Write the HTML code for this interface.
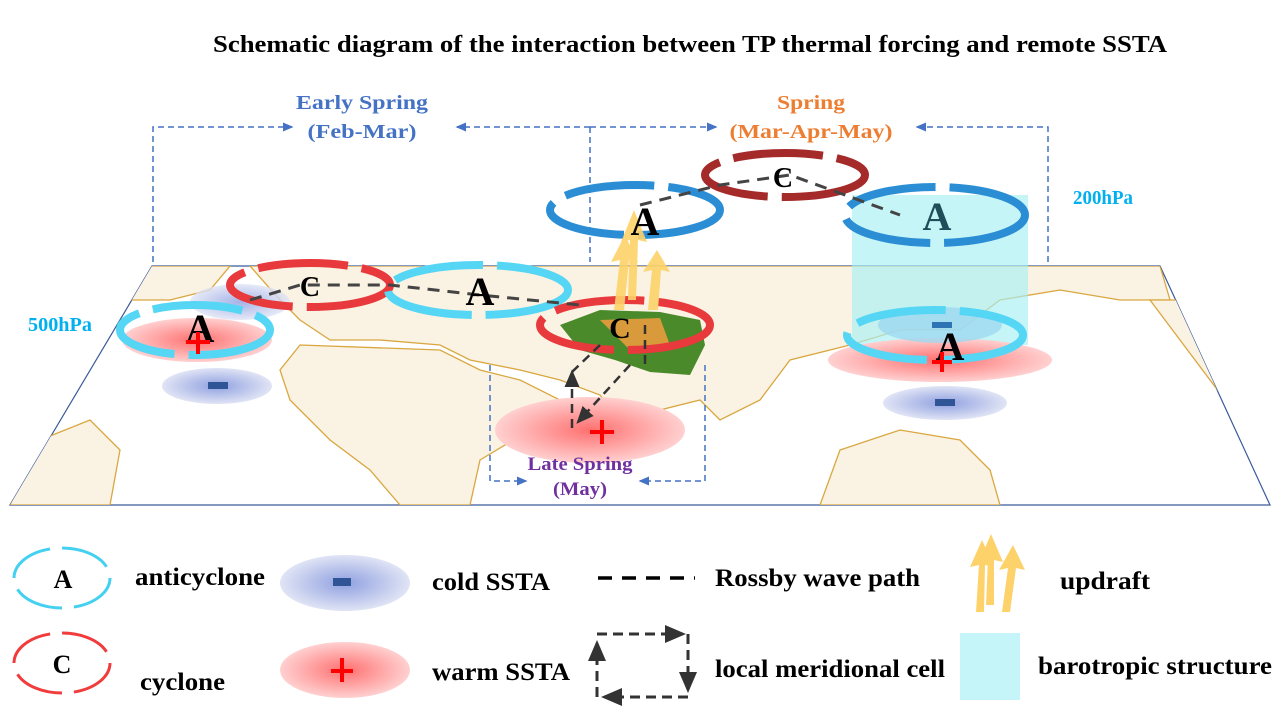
<!DOCTYPE html>
<html><head><meta charset="utf-8"><style>
html,body{margin:0;padding:0;background:#fff;}
svg{display:block;font-family:"Liberation Serif",serif;font-weight:bold;}
</style></head><body>
<svg width="1280" height="720" viewBox="0 0 1280 720" xmlns="http://www.w3.org/2000/svg">
<defs>
<radialGradient id="rg"><stop offset="0" stop-color="#ff7070"/><stop offset="1" stop-color="#ffd0d0"/></radialGradient>
<radialGradient id="bg"><stop offset="0" stop-color="#8fa0e0"/><stop offset="1" stop-color="#e0e4f5"/></radialGradient>
<marker id="ab" markerWidth="8" markerHeight="8" refX="6" refY="4" orient="auto"><path d="M0,1 L7,4 L0,7 z" fill="#4472c4"/></marker>
<marker id="ak" markerWidth="8" markerHeight="8" refX="6" refY="4" orient="auto"><path d="M0,1 L7,4 L0,7 z" fill="#333"/></marker>
<clipPath id="mc"><polygon points="152,266 1160,266 1270,505 10,505"/></clipPath>
</defs>
<text x="690" y="52" text-anchor="middle" font-size="24" textLength="954" lengthAdjust="spacingAndGlyphs" fill="#000">Schematic diagram of the interaction between TP thermal forcing and remote SSTA</text>

<polygon points="152,266 1160,266 1270,505 10,505" fill="#fff" stroke="#3a5a9a" stroke-width="1.2"/>
<g clip-path="url(#mc)" fill="#faf2e2" stroke="#d9a740" stroke-width="1.3">
<path d="M250,266 L1160,266 L1170,300 L1120,300 L1060,290 L1000,300 L960,330 L900,330 L850,345 L790,360 L760,400 L720,420 L700,400 L660,410 L640,440 L620,420 L600,395 L560,380 L520,370 L470,360 L440,345 L380,340 L330,340 L300,320 L280,300 Z"/>
<path d="M300,345 L440,350 L480,370 L520,380 L560,400 L530,430 L480,460 L470,505 L400,505 L370,470 L330,440 L290,400 L280,370 Z"/>
<path d="M10,505 L40,440 L90,420 L120,450 L110,505 Z"/>
<path d="M150,266 L230,266 L210,290 L170,300 L130,300 Z"/>
<path d="M840,450 L900,430 L960,440 L990,470 L1000,505 L820,505 Z"/>
<path d="M1150,300 L1200,300 L1260,420 L1240,420 L1180,340 Z"/>
</g>

<g fill="none" stroke="#4472c4" stroke-width="1.5" stroke-dasharray="6,4">
<polyline points="153,262 153,127 292,127" marker-end="url(#ab)"/>
<line x1="590" y1="127" x2="457" y2="127" marker-end="url(#ab)"/>
<line x1="590" y1="127" x2="716" y2="127" marker-end="url(#ab)"/>
<line x1="590" y1="127" x2="590" y2="262"/>
<polyline points="1048,262 1048,127 917,127" marker-end="url(#ab)"/>
<polyline points="490,365 490,481 526,481" marker-end="url(#ab)"/>
<polyline points="705,365 705,481 640,481" marker-end="url(#ab)"/>
</g>
<g font-size="20" text-anchor="middle">
<text x="362" y="109" fill="#4472c4" textLength="132" lengthAdjust="spacingAndGlyphs">Early Spring</text>
<text x="362" y="138" fill="#4472c4" textLength="109" lengthAdjust="spacingAndGlyphs">(Feb-Mar)</text>
<text x="811" y="109" fill="#ed7d31" textLength="68" lengthAdjust="spacingAndGlyphs">Spring</text>
<text x="811" y="138" fill="#ed7d31" textLength="163" lengthAdjust="spacingAndGlyphs">(Mar-Apr-May)</text>
<text x="1103" y="204" fill="#00b0f0" textLength="60" lengthAdjust="spacingAndGlyphs">200hPa</text>
<text x="60" y="331" fill="#00b0f0" textLength="64" lengthAdjust="spacingAndGlyphs">500hPa</text>
</g>

<rect x="852" y="195" width="176" height="150" fill="#a8f0f5" opacity="0.65"/>

<ellipse cx="197" cy="340" rx="75" ry="22" fill="url(#rg)"/>
<ellipse cx="240" cy="302" rx="50" ry="18" fill="url(#bg)" opacity="0.8"/>
<ellipse cx="217" cy="386" rx="55" ry="18" fill="url(#bg)"/>
<rect x="208" y="382" width="20" height="7" fill="#2f5597"/>
<ellipse cx="590" cy="430" rx="95" ry="33" fill="url(#rg)"/>
<path d="M590,432 h24 M602,420 v24" stroke="#f00" stroke-width="4"/>
<ellipse cx="940" cy="360" rx="112" ry="22" fill="url(#rg)"/>
<ellipse cx="940" cy="325" rx="62" ry="18" fill="#9dd8f0" opacity="0.8"/>
<rect x="932" y="322" width="20" height="6" fill="#2f75b5"/>
<ellipse cx="945" cy="403" rx="62" ry="17" fill="url(#bg)"/>
<rect x="935" y="399" width="20" height="7" fill="#2f5597"/>
<g font-size="19" text-anchor="middle" fill="#7030a0">
<text x="580" y="470" textLength="105" lengthAdjust="spacingAndGlyphs">Late Spring</text>
<text x="580" y="495" textLength="54" lengthAdjust="spacingAndGlyphs">(May)</text>
</g>

<path d="M560,325 L600,310 L660,312 L700,320 L705,345 L690,375 L650,372 L615,360 L580,350 Z" fill="#4a8a2a"/>
<path d="M600,320 L660,318 L670,345 L630,350 Z" fill="#d89a3a"/>

<g fill="none" stroke-width="8" stroke-dasharray="90,14">
<ellipse cx="195" cy="330" rx="75" ry="25" stroke="#55d6f5"/>
<ellipse cx="310" cy="285" rx="80" ry="22" stroke="#e8393c"/>
<ellipse cx="478" cy="290" rx="90" ry="25" stroke="#55d6f5"/>
<ellipse cx="625" cy="325" rx="85" ry="25" stroke="#e8393c"/>
<ellipse cx="635" cy="210" rx="85" ry="25" stroke="#2b8ed5"/>
<ellipse cx="785" cy="175" rx="80" ry="22" stroke="#a52a2a"/>
<ellipse cx="935" cy="215" rx="90" ry="28" stroke="#2b8ed5"/>
<ellipse cx="935" cy="335" rx="88" ry="25" stroke="#55d6f5"/>
</g>

<g fill="#fdd26a" opacity="0.9">
<path d="M614,310 L620,260 L611,262 L625,235 L638,262 L629,260 L624,310 Z"/>
<path d="M628,300 L630,240 L621,242 L634,210 L647,242 L638,240 L636,300 Z"/>
<path d="M648,310 L652,270 L643,272 L657,250 L670,272 L661,270 L658,310 Z"/>
</g>

<g fill="none" stroke="#444" stroke-width="3" stroke-dasharray="12,8">
<polyline points="250,300 300,285 390,285 480,295 580,305"/>
<polyline points="640,205 720,185 790,175 900,215"/>
</g>
<g fill="none" stroke="#333" stroke-width="2.5" stroke-dasharray="9,6">
<polyline points="645,325 645,365"/>
<line x1="630" y1="365" x2="578" y2="422" marker-end="url(#ak)"/>
<line x1="572" y1="428" x2="572" y2="372" marker-end="url(#ak)"/>
<line x1="572" y1="372" x2="600" y2="345"/>
</g>

<g font-size="40" fill="#000" text-anchor="middle">
<text x="200" y="342">A</text>
<text x="310" y="296" font-size="28">C</text>
<text x="480" y="305">A</text>
<text x="620" y="338" font-size="30">C</text>
<text x="645" y="235">A</text>
<text x="783" y="187" font-size="28">C</text>
<text x="937" y="230" fill="#1f4e5a">A</text>
<text x="950" y="360">A</text>
</g>
<path d="M186,342 h24 M198,332 v22" stroke="#f00" stroke-width="4"/>
<path d="M932,362 h20 M942,352 v20" stroke="#f00" stroke-width="4"/>

<ellipse cx="62" cy="578" rx="48" ry="30" fill="none" stroke="#44d0f0" stroke-width="3" stroke-dasharray="50,12"/>
<text x="63" y="588" text-anchor="middle" font-size="26">A</text>
<ellipse cx="62" cy="663" rx="48" ry="30" fill="none" stroke="#f03c3c" stroke-width="3" stroke-dasharray="50,12"/>
<text x="62" y="673" text-anchor="middle" font-size="26">C</text>
<g font-size="25">
<text x="135" y="585" textLength="130" lengthAdjust="spacingAndGlyphs">anticyclone</text>
<text x="140" y="690" textLength="85" lengthAdjust="spacingAndGlyphs">cyclone</text>
<text x="432" y="590" textLength="118" lengthAdjust="spacingAndGlyphs">cold SSTA</text>
<text x="432" y="680" textLength="138" lengthAdjust="spacingAndGlyphs">warm SSTA</text>
<text x="715" y="586" textLength="205" lengthAdjust="spacingAndGlyphs">Rossby wave path</text>
<text x="715" y="677" textLength="230" lengthAdjust="spacingAndGlyphs">local meridional cell</text>
<text x="1060" y="589" textLength="90" lengthAdjust="spacingAndGlyphs">updraft</text>
<text x="1038" y="674" textLength="234" lengthAdjust="spacingAndGlyphs">barotropic structure</text>
</g>
<ellipse cx="345" cy="583" rx="65" ry="28" fill="url(#bg)"/>
<rect x="333" y="578" width="18" height="8" fill="#2f5597"/>
<ellipse cx="345" cy="670" rx="65" ry="28" fill="url(#rg)"/>
<path d="M331,671 h22 M342,658 v24" stroke="#f00" stroke-width="4"/>
<line x1="598" y1="578" x2="695" y2="578" stroke="#000" stroke-width="3.5" stroke-dasharray="14,10"/>
<g fill="none" stroke="#333" stroke-width="3" stroke-dasharray="10,6">
<line x1="597" y1="634" x2="683" y2="634" marker-end="url(#ak)"/>
<line x1="688" y1="634" x2="688" y2="690" marker-end="url(#ak)"/>
<line x1="688" y1="697" x2="604" y2="697" marker-end="url(#ak)"/>
<line x1="597" y1="697" x2="597" y2="643" marker-end="url(#ak)"/>
</g>
<g fill="#fdd26a">
<path d="M976,612 L979,565 L970,567 L982,540 L994,567 L985,565 L984,612 Z"/>
<path d="M986,605 L988,560 L979,562 L991,534 L1003,562 L994,560 L994,605 Z"/>
<path d="M1002,612 L1008,568 L999,570 L1013,545 L1025,570 L1016,568 L1010,612 Z"/>
</g>
<rect x="960" y="633" width="60" height="67" fill="#c5f5f8"/>
</svg>
</body></html>
